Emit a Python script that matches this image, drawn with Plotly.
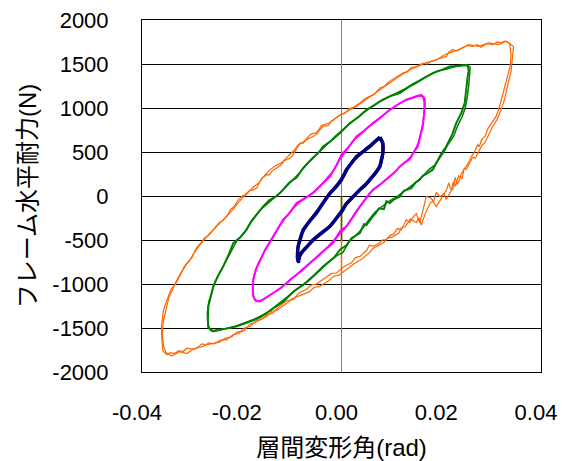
import plotly.graph_objects as go

# ---- data (drift angle [rad], horizontal force [N]) ----
orange_cycle1 = [(0.0337,1738),(0.0340,1600),(0.0338,1470),(0.0330,1300),(0.0323,1131),(0.0316,1000),(0.0310,904),(0.0300,820),(0.0293,760),(0.0288,680),(0.0281,640),(0.0276,560),(0.0273,583),(0.0265,480),(0.0260,450),(0.0257,400),(0.0250,336),(0.0245,290),(0.0240,250),(0.0236,170),(0.0232,130),(0.0228,210),(0.0223,72),(0.0218,90),(0.0215,150),(0.0210,60),(0.0205,20),(0.0197,-5),(0.0190,40),(0.0185,-60),(0.0178,-20),(0.0170,-5),(0.0166,-90),(0.0163,-150),(0.0157,-307),(0.0150,-200),(0.0145,-230),(0.0137,-300),(0.0130,-269),(0.0125,-330),(0.0120,-383),(0.0112,-370),(0.0105,-430),(0.0097,-450),(0.0090,-496),(0.0082,-500),(0.0075,-540),(0.0063,-572),(0.0056,-560),(0.0050,-620),(0.0037,-686),(0.0028,-700),(0.0020,-760),(0.0005,-800),(-0.0010,-875),(-0.0020,-880),(-0.0030,-920),(-0.0040,-950),(-0.0050,-1000),(-0.0060,-1010),(-0.0070,-1060),(-0.0085,-1100),(-0.0097,-1178),(-0.0110,-1190),(-0.0120,-1240),(-0.0130,-1280),(-0.0137,-1329),(-0.0150,-1350),(-0.0160,-1400),(-0.0172,-1420),(-0.0183,-1481),(-0.0195,-1500),(-0.0205,-1560),(-0.0218,-1580),(-0.0230,-1632),(-0.0243,-1640),(-0.0255,-1680),(-0.0266,-1670),(-0.0277,-1708),(-0.0288,-1720),(-0.0300,-1740),(-0.0310,-1730),(-0.0317,-1765),(-0.0327,-1760),(-0.0335,-1790),(-0.0343,-1780),(-0.0350,-1803),(-0.0358,-1760),(-0.0360,-1650),(-0.0361,-1481),(-0.0357,-1300),(-0.0353,-1230),(-0.0350,-1178),(-0.0342,-1064),(-0.0336,-1020),(-0.0330,-951),(-0.0320,-850),(-0.0314,-810),(-0.0310,-761),(-0.0300,-700),(-0.0291,-591),(-0.0283,-540),(-0.0275,-480),(-0.0265,-440),(-0.0257,-383),(-0.0245,-300),(-0.0238,-280),(-0.0230,-232),(-0.0222,-150),(-0.0215,-120),(-0.0207,-40),(-0.0200,-5),(-0.0192,20),(-0.0185,60),(-0.0177,70),(-0.0170,91),(-0.0165,150),(-0.0160,200),(-0.0150,242),(-0.0145,240),(-0.0140,280),(-0.0130,318),(-0.0122,350),(-0.0115,400),(-0.0103,432),(-0.0097,470),(-0.0090,540),(-0.0083,602),(-0.0077,600),(-0.0070,640),(-0.0057,677),(-0.0050,700),(-0.0045,740),(-0.0037,791),(-0.0027,800),(-0.0020,850),(-0.0003,920),(0.0007,940),(0.0015,990),(0.0025,1010),(0.0037,1056),(0.0045,1100),(0.0055,1130),(0.0065,1150),(0.0077,1227),(0.0087,1250),(0.0095,1300),(0.0110,1350),(0.0123,1397),(0.0132,1410),(0.0140,1460),(0.0150,1470),(0.0163,1511),(0.0172,1500),(0.0180,1530),(0.0195,1560),(0.0210,1586),(0.0216,1640),(0.0223,1662),(0.0232,1650),(0.0240,1680),(0.0252,1710),(0.0263,1700),(0.0272,1720),(0.0280,1690),(0.0290,1730),(0.0303,1719),(0.0312,1750),(0.0320,1740),(0.0328,1760),(0.0337,1738)]
orange_cycle2 = [(0.0345,1700),(0.0343,1560),(0.0340,1420),(0.0333,1250),(0.0327,1100),(0.0320,980),(0.0312,870),(0.0303,790),(0.0295,700),(0.0287,600),(0.0282,580),(0.0277,526),(0.0268,430),(0.0263,440),(0.0258,380),(0.0250,300),(0.0246,320),(0.0242,200),(0.0235,230),(0.0228,110),(0.0224,160),(0.0220,60),(0.0210,-40),(0.0205,30),(0.0200,-30),(0.0190,-120),(0.0183,-60),(0.0178,-80),(0.0168,-200),(0.0160,-330),(0.0155,-250),(0.0150,-300),(0.0138,-260),(0.0128,-350),(0.0120,-360),(0.0115,-420),(0.0100,-470),(0.0092,-480),(0.0085,-530),(0.0070,-580),(0.0062,-600),(0.0055,-650),(0.0040,-720),(0.0025,-770),(0.0010,-840),(-0.0005,-900),(-0.0015,-910),(-0.0025,-960),(-0.0045,-1030),(-0.0055,-1040),(-0.0065,-1090),(-0.0085,-1140),(-0.0100,-1170),(-0.0110,-1220),(-0.0130,-1300),(-0.0140,-1310),(-0.0150,-1370),(-0.0175,-1440),(-0.0185,-1460),(-0.0195,-1530),(-0.0210,-1550),(-0.0220,-1600),(-0.0235,-1620),(-0.0245,-1660),(-0.0270,-1690),(-0.0280,-1680),(-0.0290,-1730),(-0.0300,-1750),(-0.0310,-1790),(-0.0325,-1770),(-0.0340,-1820),(-0.0352,-1780),(-0.0357,-1700),(-0.0359,-1580),(-0.0358,-1450),(-0.0353,-1320),(-0.0346,-1150),(-0.0337,-1040),(-0.0325,-920),(-0.0315,-800),(-0.0305,-740),(-0.0295,-640),(-0.0282,-540),(-0.0265,-430),(-0.0250,-340),(-0.0235,-260),(-0.0220,-170),(-0.0205,-60),(-0.0190,20),(-0.0175,110),(-0.0165,150),(-0.0155,230),(-0.0143,300),(-0.0133,340),(-0.0120,380),(-0.0108,450),(-0.0095,520),(-0.0087,580),(-0.0075,620),(-0.0062,700),(-0.0050,720),(-0.0040,800),(-0.0025,830),(-0.0008,900),(0.0010,960),(0.0030,1020),(0.0050,1100),(0.0070,1180),(0.0088,1260),(0.0105,1320),(0.0118,1370),(0.0135,1430),(0.0155,1480),(0.0172,1520),(0.0190,1545),(0.0205,1600),(0.0218,1630),(0.0235,1660),(0.0255,1720),(0.0275,1700),(0.0295,1740),(0.0315,1720),(0.0330,1760),(0.0345,1700)]
orange_end = [(0.0,-870),(0.0,0)]

green_cycle1 = [(0.0253,1492),(0.0255,1420),(0.0253,1359),(0.0250,1200),(0.0247,1056),(0.0240,940),(0.0230,829),(0.0222,700),(0.0210,563),(0.0200,480),(0.0190,380),(0.0183,299),(0.0170,250),(0.0163,230),(0.0157,185),(0.0148,150),(0.0140,90),(0.0125,60),(0.0117,-5),(0.0105,-40),(0.0097,-80),(0.0090,-60),(0.0085,-150),(0.0075,-140),(0.0068,-200),(0.0063,-232),(0.0050,-330),(0.0045,-320),(0.0037,-420),(0.0020,-480),(0.0010,-560),(-0.0003,-610),(-0.0015,-700),(-0.0037,-800),(-0.0055,-900),(-0.0077,-1010),(-0.0095,-1080),(-0.0117,-1200),(-0.0140,-1290),(-0.0163,-1380),(-0.0185,-1430),(-0.0210,-1481),(-0.0235,-1510),(-0.0257,-1538),(-0.0267,-1500),(-0.0268,-1400),(-0.0267,-1254),(-0.0262,-1130),(-0.0257,-1027),(-0.0248,-910),(-0.0237,-800),(-0.0225,-650),(-0.0217,-534),(-0.0203,-470),(-0.0190,-380),(-0.0183,-307),(-0.0170,-210),(-0.0157,-118),(-0.0145,-50),(-0.0130,0),(-0.0117,72),(-0.0105,150),(-0.0090,210),(-0.0077,318),(-0.0060,420),(-0.0045,500),(-0.0037,563),(-0.0020,630),(-0.0003,716),(0.0017,829),(0.0035,900),(0.0050,980),(0.0065,1030),(0.0083,1094),(0.0100,1140),(0.0117,1170),(0.0135,1240),(0.0150,1284),(0.0165,1340),(0.0183,1397),(0.0200,1430),(0.0217,1473),(0.0235,1480),(0.0253,1492)]
green_cycle2 = [(0.0258,1470),(0.0257,1380),(0.0255,1250),(0.0252,1120),(0.0248,1000),(0.0242,900),(0.0233,800),(0.0225,680),(0.0215,600),(0.0205,500),(0.0195,420),(0.0187,350),(0.0175,300),(0.0162,220),(0.0148,150),(0.0132,80),(0.0120,30),(0.0108,-20),(0.0095,-60),(0.0082,-120),(0.0068,-180),(0.0055,-270),(0.0042,-370),(0.0030,-440),(0.0015,-520),(0.0003,-640),(-0.0010,-680),(-0.0025,-750),(-0.0045,-850),(-0.0065,-960),(-0.0085,-1040),(-0.0105,-1130),(-0.0128,-1240),(-0.0150,-1330),(-0.0175,-1400),(-0.0198,-1450),(-0.0222,-1500),(-0.0245,-1520),(-0.0262,-1530),(-0.0268,-1460),(-0.0269,-1330),(-0.0266,-1200),(-0.0260,-1080),(-0.0253,-970),(-0.0243,-860),(-0.0230,-720),(-0.0220,-600),(-0.0210,-510),(-0.0195,-420),(-0.0178,-260),(-0.0165,-170),(-0.0150,-90),(-0.0137,-30),(-0.0122,40),(-0.0110,110),(-0.0097,180),(-0.0083,270),(-0.0068,370),(-0.0052,460),(-0.0040,530),(-0.0028,600),(-0.0012,680),(0.0008,780),(0.0025,860),(0.0042,940),(0.0058,1000),(0.0075,1070),(0.0092,1120),(0.0108,1160),(0.0125,1210),(0.0142,1270),(0.0158,1320),(0.0175,1370),(0.0192,1420),(0.0210,1440),(0.0228,1470),(0.0245,1485),(0.0258,1470)]
green_end = [(0.0,-500),(0.0,0)]

magenta_cycle1 = [(0.0160,1151),(0.0167,1100),(0.0167,1018),(0.0165,900),(0.0163,791),(0.0158,680),(0.0153,563),(0.0145,500),(0.0137,420),(0.0127,380),(0.0117,336),(0.0105,260),(0.0090,185),(0.0075,120),(0.0063,72),(0.0050,-20),(0.0037,-118),(0.0025,-220),(0.0010,-345),(-0.0003,-400),(-0.0017,-534),(-0.0035,-620),(-0.0050,-700),(-0.0063,-761),(-0.0080,-850),(-0.0103,-951),(-0.0120,-1040),(-0.0137,-1102),(-0.0150,-1150),(-0.0163,-1197),(-0.0172,-1190),(-0.0177,-1140),(-0.0178,-1050),(-0.0177,-951),(-0.0172,-840),(-0.0163,-724),(-0.0153,-610),(-0.0143,-520),(-0.0130,-400),(-0.0117,-269),(-0.0105,-200),(-0.0090,-80),(-0.0075,-30),(-0.0057,34),(-0.0040,130),(-0.0023,223),(-0.0010,350),(0.0000,470),(0.0015,560),(0.0030,677),(0.0045,740),(0.0063,829),(0.0080,900),(0.0097,980),(0.0113,1040),(0.0130,1094),(0.0145,1120),(0.0160,1151)]
magenta_cycle2 = [(0.0163,1130),(0.0166,1060),(0.0166,960),(0.0164,850),(0.0160,740),(0.0155,620),(0.0149,540),(0.0141,460),(0.0131,400),(0.0120,350),(0.0110,290),(0.0097,220),(0.0082,150),(0.0068,90),(0.0056,30),(0.0043,-70),(0.0030,-170),(0.0017,-290),(0.0005,-380),(-0.0010,-470),(-0.0026,-570),(-0.0043,-660),(-0.0057,-730),(-0.0072,-800),(-0.0092,-900),(-0.0112,-1000),(-0.0128,-1070),(-0.0145,-1130),(-0.0158,-1180),(-0.0168,-1200),(-0.0175,-1170),(-0.0178,-1100),(-0.0178,-1000),(-0.0175,-900),(-0.0168,-780),(-0.0158,-670),(-0.0148,-560),(-0.0137,-460),(-0.0123,-330),(-0.0110,-230),(-0.0097,-140),(-0.0082,-60),(-0.0066,0),(-0.0048,80),(-0.0032,180),(-0.0017,280),(-0.0005,400),(0.0008,510),(0.0022,620),(0.0038,700),(0.0055,790),(0.0072,860),(0.0088,940),(0.0105,1010),(0.0122,1070),(0.0138,1110),(0.0153,1140),(0.0163,1130)]

navy_cycle1 = [(0.0077,670),(0.0083,600),(0.0083,488),(0.0080,400),(0.0077,336),(0.0068,260),(0.0057,185),(0.0047,120),(0.0037,72),(0.0027,10),(0.0017,-42),(0.0008,-100),(0.0003,-156),(-0.0010,-250),(-0.0023,-345),(-0.0040,-420),(-0.0057,-496),(-0.0070,-580),(-0.0083,-660),(-0.0087,-750),(-0.0088,-650),(-0.0087,-572),(-0.0082,-480),(-0.0077,-383),(-0.0063,-280),(-0.0050,-193),(-0.0037,-80),(-0.0023,34),(-0.0010,110),(0.0000,185),(0.0010,299),(0.0020,370),(0.0030,450),(0.0045,510),(0.0057,563),(0.0067,620),(0.0077,670)]
navy_cycle2 = [(0.0080,650),(0.0084,560),(0.0082,450),(0.0079,370),(0.0073,300),(0.0062,220),(0.0052,150),(0.0042,100),(0.0032,40),(0.0022,-20),(0.0012,-70),(0.0005,-130),(-0.0004,-200),(-0.0016,-300),(-0.0030,-380),(-0.0048,-460),(-0.0063,-540),(-0.0077,-620),(-0.0085,-700),(-0.0086,-760),(-0.0089,-700),(-0.0088,-610),(-0.0085,-520),(-0.0080,-430),(-0.0070,-330),(-0.0057,-240),(-0.0043,-130),(-0.0030,-20),(-0.0017,70),(-0.0005,150),(0.0005,240),(0.0015,340),(0.0025,410),(0.0038,480),(0.0050,540),(0.0062,590),(0.0072,640),(0.0080,650)]

x_tick_values = [-0.04, -0.02, 0.0, 0.02, 0.04]
x_tick_labels = ["-0.04", "-0.02", "0.00", "0.02", "0.04"]
y_tick_values = [2000, 1500, 1000, 500, 0, -500, -1000, -1500, -2000]
y_tick_labels = ["2000", "1500", "1000", "500", "0", "-500", "-1000", "-1500", "-2000"]

series = [
    (orange_cycle1, "#FF6600", 1.2),
    (orange_cycle2, "#FF6600", 1.2),
    (orange_end, "#FF6600", 1.5),
    (green_cycle1, "#008000", 2.0),
    (green_cycle2, "#008000", 1.5),
    (green_end, "#008000", 1.5),
    (magenta_cycle1, "#FF00FF", 2.0),
    (magenta_cycle2, "#FF00FF", 1.6),
    (navy_cycle1, "#000080", 3.5),
    (navy_cycle2, "#000080", 3.0),
]

FONT = "Liberation Sans, Arial, Noto Sans CJK JP, sans-serif"

fig = go.Figure()
for pts, col, w in series:
    fig.add_trace(go.Scatter(
        x=[p[0] for p in pts], y=[p[1] for p in pts],
        mode="lines", line=dict(color=col, width=w),
        showlegend=False, hoverinfo="skip"))

fig.update_layout(
    width=562, height=461,
    margin=dict(l=142, r=21, t=20, b=89, autoexpand=False),
    paper_bgcolor="white", plot_bgcolor="white",
    font=dict(family=FONT, color="black", size=22),
    showlegend=False,
)
fig.update_xaxes(
    range=[-0.04, 0.04], tickvals=x_tick_values, ticktext=x_tick_labels,
    showgrid=False, zeroline=True, zerolinecolor="#808080", zerolinewidth=1,
    showline=True, linecolor="black", linewidth=1, mirror=True,
    ticks="", ticklabelstandoff=21, ticklabelshift=-5, automargin=False,
    tickfont=dict(size=22, family=FONT),
    title=dict(text="層間変形角(rad)", font=dict(size=24, family=FONT), standoff=19),
)
fig.update_yaxes(
    range=[-2000, 2000], tickvals=y_tick_values, ticktext=y_tick_labels,
    showgrid=True, gridcolor="black", gridwidth=1,
    zeroline=True, zerolinecolor="black", zerolinewidth=1,
    showline=True, linecolor="black", linewidth=1, mirror=True,
    ticks="", ticklabelstandoff=28, automargin=False,
    tickfont=dict(size=22, family=FONT),
    title=dict(text="フレーム水平耐力(N)", font=dict(size=24, family=FONT), standoff=8),
)

fig.write_html("out.html")
